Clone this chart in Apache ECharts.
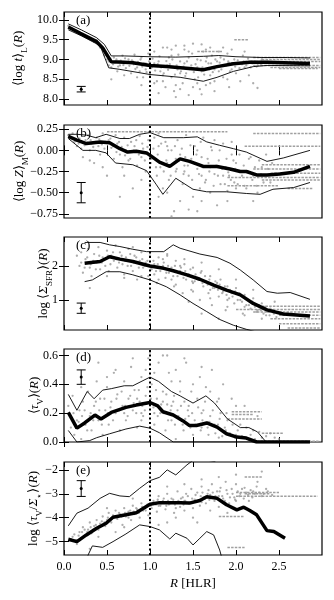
<!DOCTYPE html>
<html><head><meta charset="utf-8">
<script src="https://cdn.jsdelivr.net/npm/echarts@6/dist/echarts.min.js"></script>
<style>html,body{margin:0;padding:0;background:#fff}#c{width:334px;height:600px}</style>
</head><body><div id="c"></div>
<script>
// ---------- x axis ----------
const xTicks = [0, 0.5, 1, 1.5, 2, 2.5];
const xTickLabels = ['0.0', '0.5', '1.0', '1.5', '2.0', '2.5'];

// ---------- panel (a) <log t>_L ----------
const aTicks = [8, 8.5, 9, 9.5, 10];
const aTickLabels = ['8.0', '8.5', '9.0', '9.5', '10.0'];
const aMedian = [[0.05,9.82],[0.19,9.66],[0.38,9.45],[0.45,9.29],[0.55,8.94],[0.7,8.93],[0.8,8.92],[1.0,8.85],[1.19,8.82],[1.42,8.78],[1.62,8.74],[1.78,8.82],[1.97,8.89],[2.16,8.93],[2.36,8.93],[2.55,8.92],[2.86,8.9]];
const aUpper = [[0.05,9.9],[0.2,9.75],[0.38,9.55],[0.47,9.38],[0.55,9.09],[0.7,9.09],[1.0,9.07],[1.3,9.06],[1.62,9.08],[1.8,9.1],[2.0,9.07],[2.3,9.05],[2.6,9.05],[2.86,9.04]];
const aLower = [[0.05,9.75],[0.2,9.6],[0.42,9.35],[0.52,8.79],[0.65,8.75],[1.0,8.62],[1.35,8.55],[1.62,8.45],[1.78,8.55],[1.97,8.7],[2.2,8.82],[2.36,8.85],[2.86,8.84]];
const aScatter = [[0.05,9.85],[0.08,9.78],[0.12,9.74],[0.15,9.72],[0.18,9.65],[0.22,9.62],[0.25,9.58],[0.28,9.55],[0.32,9.5],[0.35,9.45],[0.38,9.48],[0.4,9.4],[0.42,9.3],[0.45,9.25],[0.47,9.1],[0.5,9.0],[0.52,8.85],[0.55,8.8],[0.58,9.05],[0.6,8.95],[0.62,8.7],[0.65,8.85],[0.68,9.1],[0.7,8.9],[0.72,8.78],[0.75,9.0],[0.78,8.65],[0.8,8.95],[0.82,9.12],[0.85,8.8],[0.88,8.7],[0.9,9.05],[0.92,8.55],[0.95,8.9],[0.98,9.15],[1.0,8.6],[1.02,8.8],[1.05,9.2],[1.08,8.45],[1.1,8.95],[1.12,8.7],[1.15,9.3],[1.18,8.3],[1.2,8.85],[1.22,9.05],[1.25,8.55],[1.28,8.2],[1.3,9.35],[1.32,8.75],[1.35,8.95],[1.38,8.4],[1.4,9.25],[1.42,8.65],[1.45,8.1],[1.48,8.85],[1.5,9.4],[1.52,8.5],[1.55,9.0],[1.58,8.25],[1.6,8.7],[1.62,9.2],[1.65,8.35],[1.68,8.9],[1.7,8.6],[1.72,9.1],[1.75,8.45],[1.78,8.95],[1.8,8.7],[1.82,9.05],[1.85,8.55],[1.88,8.85],[1.9,9.15],[1.92,8.3],[1.95,8.75],[1.98,9.0],[2.0,8.65],[2.05,8.9],[2.08,9.1],[2.1,8.8],[2.15,8.6],[2.18,8.95],[2.2,8.4],[2.25,8.85],[2.3,9.0],[1.1,8.15],[1.3,8.05],[1.6,8.12],[0.55,8.5],[0.9,8.35],[1.7,9.3],[2.25,8.28],[1.95,9.25],[1.25,9.1],[1.4,8.9],[1.55,8.8],[1.15,8.6],[0.95,8.75],[1.75,8.75],[1.35,8.65],[1.45,9.05],[1.65,8.95],[1.05,8.9]];
const aScatter2 = [[0.52,8.95],[0.54,9.02],[0.57,8.88],[0.59,8.92],[0.61,9.0],[0.63,8.82],[0.66,8.97],[0.69,8.86],[0.71,9.03],[0.73,8.92],[0.76,8.84],[0.79,8.98],[0.81,8.88],[0.83,8.76],[0.86,8.94],[0.89,9.0],[0.91,8.82],[0.93,8.9],[0.96,8.68],[0.99,8.95],[1.01,8.78],[1.03,9.02],[1.06,8.72],[1.09,8.88],[1.11,9.08],[1.13,8.8],[1.16,8.65],[1.19,8.96],[1.21,8.74],[1.23,8.88],[1.26,9.0],[1.29,8.62],[1.31,8.85],[1.33,9.12],[1.36,8.7],[1.39,8.82],[1.41,8.58],[1.43,8.95],[1.46,8.76],[1.49,9.15],[1.51,8.68],[1.53,8.88],[1.56,8.55],[1.59,8.98],[1.61,8.8],[1.63,8.62],[1.66,9.05],[1.69,8.75],[1.71,8.9],[1.73,8.68],[1.76,9.0],[1.79,8.82],[1.81,8.92],[1.83,8.75],[1.86,9.0],[1.89,8.85],[1.91,8.95],[1.93,8.7],[1.96,8.9],[1.99,8.82],[2.02,8.98],[2.04,8.78],[2.07,8.88],[2.09,8.95],[2.12,8.85],[2.14,9.02],[2.17,8.8],[2.19,8.9],[2.22,8.95],[2.24,8.82],[2.27,8.92],[2.29,8.86],[1.0,9.25],[1.2,9.3],[1.4,9.35],[1.6,9.38],[1.8,9.2],[1.3,8.35],[1.5,8.3],[1.7,8.4],[0.7,8.6],[0.85,8.55],[1.05,8.4],[1.15,8.45],[1.35,8.25],[1.55,8.4],[1.75,8.2],[1.9,8.5],[2.05,8.45],[1.45,9.2],[1.65,9.25],[1.25,9.25],[1.85,9.3],[2.1,9.2]];
const aStreaks = [[9.05,2.2,2.98],[9.0,2.3,2.98],[8.95,2.1,2.98],[8.85,2.2,2.98],[8.8,2.4,2.98],[8.77,2.5,2.95],[9.5,1.98,2.15],[8.92,1.9,2.5],[9.2,1.55,1.85]];
const aErr = [[0.2, 8.25, 0.07]];

// ---------- panel (b) <log Z>_M ----------
const bTicks = [-0.75, -0.5, -0.25, 0, 0.25];
const bTickLabels = ['\u22120.75', '\u22120.50', '\u22120.25', '0.00', '0.25'];
const bMedian = [[0.05,0.166],[0.15,0.12],[0.26,0.08],[0.42,0.1],[0.53,0.09],[0.65,0.02],[0.74,-0.02],[0.84,-0.01],[0.96,-0.03],[1.03,-0.08],[1.11,-0.14],[1.23,-0.19],[1.35,-0.1],[1.46,-0.13],[1.62,-0.19],[1.78,-0.19],[1.93,-0.22],[2.05,-0.25],[2.12,-0.25],[2.24,-0.29],[2.36,-0.29],[2.51,-0.28],[2.67,-0.26],[2.86,-0.19]];
const bUpper = [[0.05,0.19],[0.15,0.19],[0.26,0.18],[0.37,0.15],[0.49,0.19],[0.65,0.14],[0.76,0.14],[0.88,0.19],[1.0,0.21],[1.16,0.15],[1.39,0.15],[1.55,0.16],[1.66,0.1],[1.81,0.06],[1.97,0.02],[2.12,-0.02],[2.36,-0.13],[2.55,-0.09],[2.86,0.0]];
const bLower = [[0.05,0.14],[0.22,0.0],[0.37,0.0],[0.49,-0.03],[0.6,-0.15],[0.8,-0.17],[0.96,-0.24],[1.07,-0.4],[1.15,-0.52],[1.3,-0.33],[1.5,-0.46],[1.66,-0.49],[1.89,-0.49],[2.12,-0.51],[2.28,-0.52],[2.43,-0.46],[2.67,-0.44],[2.86,-0.38]];
const bScatter = [[0.05,0.18],[0.08,0.15],[0.1,0.2],[0.12,0.1],[0.15,0.05],[0.18,0.14],[0.2,0.02],[0.22,-0.08],[0.25,0.12],[0.28,0.18],[0.3,0.0],[0.32,0.08],[0.35,-0.15],[0.38,0.15],[0.4,0.05],[0.42,-0.05],[0.45,0.2],[0.48,0.1],[0.5,-0.3],[0.52,0.12],[0.55,0.03],[0.58,-0.1],[0.6,0.18],[0.62,0.08],[0.65,-0.05],[0.68,-0.2],[0.7,0.15],[0.72,0.0],[0.75,-0.12],[0.78,0.1],[0.8,-0.45],[0.82,0.05],[0.85,-0.18],[0.88,0.17],[0.9,-0.08],[0.92,0.02],[0.95,-0.25],[0.98,0.12],[1.0,-0.6],[1.02,-0.1],[1.05,0.15],[1.08,-0.3],[1.1,0.05],[1.12,-0.2],[1.15,-0.45],[1.18,0.1],[1.2,-0.15],[1.22,-0.35],[1.25,0.0],[1.28,-0.72],[1.3,-0.25],[1.32,0.12],[1.35,-0.05],[1.38,-0.4],[1.4,-0.18],[1.42,0.18],[1.45,-0.3],[1.48,-0.1],[1.5,-0.55],[1.52,0.05],[1.55,-0.22],[1.58,-0.45],[1.6,-0.08],[1.62,0.15],[1.65,-0.35],[1.68,-0.15],[1.7,-0.5],[1.72,0.0],[1.75,-0.28],[1.78,-0.65],[1.8,-0.12],[1.82,-0.4],[1.85,0.08],[1.88,-0.2],[1.9,-0.48],[1.92,-0.3],[1.95,-0.05],[1.98,-0.38],[2.0,-0.15],[2.05,-0.25],[2.1,-0.42],[2.15,-0.1],[2.2,-0.3],[2.25,-0.5],[2.3,-0.2],[2.35,-0.05],[2.4,-0.38],[1.25,-0.78],[0.65,-0.55],[1.45,-0.7],[1.1,0.2],[1.3,-0.1],[1.55,0.0],[1.7,-0.2],[1.85,-0.3],[1.2,0.05],[1.4,-0.25],[2.0,-0.45],[1.6,-0.3]];
const bScatter2 = [[0.06,0.17],[0.1,0.14],[0.14,0.11],[0.17,0.08],[0.21,0.1],[0.24,0.06],[0.27,0.09],[0.31,0.12],[0.34,0.04],[0.37,0.1],[0.41,0.13],[0.44,0.07],[0.47,0.02],[0.51,0.09],[0.54,0.14],[0.57,0.05],[0.61,-0.02],[0.64,0.1],[0.67,0.04],[0.71,-0.06],[0.74,0.06],[0.77,-0.1],[0.81,0.0],[0.84,0.12],[0.87,-0.05],[0.91,0.08],[0.94,-0.12],[0.97,0.04],[1.01,-0.15],[1.04,0.02],[1.07,-0.2],[1.09,-0.05],[1.13,0.08],[1.16,-0.25],[1.19,-0.12],[1.21,0.0],[1.24,-0.3],[1.27,-0.16],[1.29,0.05],[1.31,-0.22],[1.34,-0.12],[1.37,0.02],[1.39,-0.28],[1.41,-0.08],[1.44,-0.18],[1.47,0.06],[1.49,-0.35],[1.51,-0.15],[1.54,-0.05],[1.57,-0.28],[1.59,0.1],[1.61,-0.2],[1.64,-0.38],[1.67,-0.1],[1.69,-0.25],[1.71,0.04],[1.74,-0.42],[1.77,-0.18],[1.79,-0.3],[1.81,0.0],[1.84,-0.22],[1.87,-0.4],[1.89,-0.1],[1.91,-0.26],[1.94,-0.35],[1.97,-0.12],[1.99,-0.22],[2.02,-0.4],[2.04,-0.05],[2.07,-0.3],[2.09,-0.18],[2.12,-0.45],[2.14,-0.25],[2.17,-0.08],[2.19,-0.35],[2.22,-0.2],[2.24,-0.42],[2.27,-0.12],[2.29,-0.28],[2.32,-0.38],[2.37,-0.22],[2.42,-0.15],[1.0,-0.4],[1.2,-0.5],[1.35,-0.6],[1.6,-0.6],[1.9,-0.6],[2.2,-0.6],[0.9,-0.35],[1.55,-0.72],[0.45,-0.2],[0.3,-0.12],[0.7,-0.3],[1.1,-0.55],[1.75,0.12],[1.95,0.1]];
const bStreaks = [[0.22,0.5,1.9],[0.2,2.2,2.98],[0.05,2.1,2.98],[-0.17,2.3,2.98],[-0.22,2.2,2.98],[-0.27,2.4,2.98],[-0.32,1.9,2.98],[-0.35,2.3,2.98],[-0.42,1.9,2.5],[-0.45,2.6,2.9]];
const bErr = [[0.2, -0.5, 0.12]];

// ---------- panel (c) log <Sigma_SFR> ----------
const cTicks = [1, 2];
const cTickLabels = ['1', '2'];
const cMedian = [[0.24,2.08],[0.42,2.13],[0.53,2.27],[0.65,2.2],[0.8,2.13],[1.0,2.0],[1.16,1.93],[1.27,1.86],[1.43,1.74],[1.58,1.61],[1.74,1.44],[1.89,1.29],[2.05,1.15],[2.2,0.9],[2.36,0.71],[2.55,0.59],[2.86,0.53]];
const cUpper = [[0.24,2.69],[0.42,2.69],[0.53,2.62],[0.65,2.57],[0.8,2.49],[0.96,2.42],[1.16,2.42],[1.27,2.62],[1.35,2.52],[1.58,2.35],[1.78,2.25],[1.93,2.08],[2.05,1.88],[2.2,1.59],[2.36,1.25],[2.48,1.2],[2.63,1.22],[2.86,1.02]];
const cLower = [[0.24,1.54],[0.33,1.59],[0.49,1.83],[0.65,1.83],[0.8,1.74],[1.0,1.59],[1.19,1.39],[1.35,1.15],[1.5,0.9],[1.66,0.66],[1.81,0.43],[1.97,0.26],[2.12,0.14],[2.3,0.02]];
const cScatter = [[0.15,2.3],[0.18,2.0],[0.2,2.4],[0.22,1.8],[0.25,2.2],[0.28,2.5],[0.3,1.95],[0.32,1.7],[0.35,2.35],[0.38,2.1],[0.4,2.55],[0.42,1.9],[0.45,2.25],[0.48,2.0],[0.5,2.45],[0.52,1.85],[0.55,2.3],[0.58,2.15],[0.6,2.6],[0.62,1.95],[0.65,2.4],[0.68,2.05],[0.7,1.75],[0.72,2.25],[0.75,2.5],[0.78,2.0],[0.8,1.85],[0.82,2.3],[0.85,1.6],[0.88,2.15],[0.9,2.4],[0.92,1.95],[0.95,2.1],[0.98,1.7],[1.0,2.3],[1.02,1.9],[1.05,2.05],[1.08,1.5],[1.1,2.25],[1.12,1.85],[1.15,2.0],[1.18,1.65],[1.2,2.35],[1.22,1.8],[1.25,1.95],[1.28,1.4],[1.3,2.15],[1.32,1.7],[1.35,1.85],[1.38,1.2],[1.4,2.05],[1.42,1.6],[1.45,1.75],[1.48,1.3],[1.5,1.95],[1.52,1.55],[1.55,1.65],[1.58,1.0],[1.6,1.85],[1.62,1.4],[1.65,1.55],[1.68,1.2],[1.7,1.7],[1.72,0.85],[1.75,1.35],[1.78,1.5],[1.8,1.1],[1.82,1.6],[1.85,1.25],[1.88,0.7],[1.9,1.4],[1.92,1.05],[1.95,1.2],[1.98,0.9],[2.0,1.35],[2.05,1.0],[2.08,0.6],[2.1,1.15],[2.15,0.85],[2.2,1.05],[2.25,0.7],[2.3,0.9],[2.35,0.55],[2.4,0.75],[2.45,0.95],[0.3,1.35],[1.6,0.6],[1.8,0.45],[1.45,0.95],[1.05,1.75],[1.25,1.6],[1.5,1.5],[1.7,1.3],[1.9,1.0],[2.1,0.8],[0.9,2.05],[1.15,2.2],[1.35,2.0]];
const cScatter2 = [[0.2,2.1],[0.24,1.95],[0.27,2.25],[0.31,2.05],[0.34,2.15],[0.37,1.9],[0.41,2.3],[0.44,2.1],[0.47,2.2],[0.51,2.3],[0.54,2.05],[0.57,2.4],[0.61,2.2],[0.64,2.1],[0.67,2.3],[0.71,2.15],[0.74,2.0],[0.77,2.35],[0.81,2.1],[0.84,2.25],[0.87,1.95],[0.91,2.2],[0.94,2.0],[0.97,2.15],[1.01,1.95],[1.04,2.15],[1.07,1.85],[1.09,2.05],[1.13,1.95],[1.16,2.1],[1.19,1.8],[1.21,2.0],[1.24,1.9],[1.27,1.7],[1.29,2.0],[1.33,1.8],[1.36,1.95],[1.39,1.65],[1.41,1.85],[1.44,1.7],[1.47,1.9],[1.49,1.55],[1.53,1.75],[1.56,1.6],[1.59,1.8],[1.61,1.5],[1.64,1.7],[1.67,1.45],[1.69,1.6],[1.73,1.35],[1.76,1.55],[1.79,1.3],[1.81,1.45],[1.84,1.2],[1.87,1.4],[1.89,1.15],[1.93,1.3],[1.96,1.1],[1.99,1.25],[2.02,1.0],[2.04,1.2],[2.07,0.95],[2.09,1.1],[2.12,0.85],[2.14,1.0],[2.17,0.75],[2.19,0.95],[2.22,0.8],[2.24,0.65],[2.27,0.85],[2.29,0.7],[2.32,0.6],[2.34,0.8],[2.37,0.65],[2.39,0.55],[2.42,0.7],[2.44,0.6],[2.47,0.5],[1.1,1.6],[1.3,1.45],[1.5,1.25],[1.7,1.05],[1.9,0.8],[2.1,0.55],[2.3,0.45],[0.8,2.55],[1.0,2.4],[1.2,2.3],[1.4,2.2],[1.6,2.1],[1.8,1.9],[2.0,1.6],[2.2,1.3],[0.5,1.7],[0.7,1.65],[0.9,1.7]];
const cStreaks = [[0.82,2.3,2.98],[0.72,2.0,2.98],[0.65,2.2,2.98],[0.55,2.5,2.98],[0.45,2.4,2.98],[0.3,2.5,2.98],[0.18,2.6,2.98]];
const cErr = [[0.2, 0.76, 0.15]];

// ---------- panel (d) <tau_V> ----------
const dTicks = [0, 0.2, 0.4, 0.6];
const dTickLabels = ['0.0', '0.2', '0.4', '0.6'];
const dMedian = [[0.05,0.205],[0.15,0.096],[0.24,0.132],[0.36,0.187],[0.43,0.16],[0.55,0.205],[0.72,0.24],[0.84,0.256],[1.0,0.274],[1.09,0.25],[1.15,0.21],[1.27,0.187],[1.38,0.148],[1.46,0.114],[1.54,0.114],[1.66,0.132],[1.78,0.103],[1.89,0.057],[2.01,0.034],[2.12,0.027],[2.24,0.0],[2.86,0.0]];
const dUpper = [[0.05,0.33],[0.15,0.22],[0.27,0.35],[0.35,0.3],[0.45,0.36],[0.55,0.37],[0.7,0.39],[0.8,0.39],[1.0,0.45],[1.1,0.42],[1.25,0.35],[1.35,0.32],[1.5,0.27],[1.65,0.32],[1.75,0.27],[1.9,0.16],[2.05,0.1],[2.15,0.1],[2.25,0.07],[2.35,0.0],[2.86,0.0]];
const dLower = [[0.05,0.08],[0.15,0.0],[0.3,0.01],[0.38,0.03],[0.53,0.057],[0.72,0.09],[0.88,0.11],[1.0,0.096],[1.11,0.064],[1.27,0.0],[2.86,0.0]];
const dScatter = [[0.05,0.25],[0.08,0.1],[0.1,0.32],[0.12,0.05],[0.15,0.15],[0.18,0.22],[0.2,0.02],[0.22,0.28],[0.25,0.12],[0.28,0.35],[0.3,0.18],[0.32,0.08],[0.35,0.25],[0.38,0.42],[0.4,0.15],[0.42,0.3],[0.45,0.05],[0.48,0.22],[0.5,0.38],[0.52,0.12],[0.55,0.28],[0.58,0.48],[0.6,0.2],[0.62,0.33],[0.65,0.08],[0.68,0.25],[0.7,0.42],[0.72,0.15],[0.75,0.3],[0.78,0.52],[0.8,0.22],[0.82,0.36],[0.85,0.1],[0.88,0.28],[0.9,0.45],[0.92,0.18],[0.95,0.32],[0.98,0.58],[1.0,0.25],[1.02,0.4],[1.05,0.12],[1.08,0.3],[1.1,0.55],[1.12,0.2],[1.15,0.35],[1.18,0.08],[1.2,0.26],[1.22,0.48],[1.25,0.15],[1.28,0.32],[1.3,0.02],[1.32,0.22],[1.35,0.42],[1.38,0.12],[1.4,0.28],[1.42,0.55],[1.45,0.18],[1.48,0.35],[1.5,0.05],[1.52,0.15],[1.55,0.3],[1.58,0.45],[1.6,0.1],[1.62,0.22],[1.65,0.38],[1.68,0.05],[1.7,0.18],[1.72,0.5],[1.75,0.12],[1.78,0.28],[1.8,0.03],[1.82,0.2],[1.85,0.4],[1.88,0.08],[1.9,0.15],[1.95,0.3],[2.0,0.05],[2.05,0.12],[2.1,0.25],[2.15,0.02],[2.2,0.08],[2.25,0.18],[2.3,0.03],[2.4,0.06],[2.5,0.02],[1.0,0.62],[1.2,0.6],[0.95,0.5],[1.4,0.58],[0.85,0.3],[1.05,0.2],[1.25,0.25],[1.45,0.25],[0.7,0.2],[1.6,0.2],[0.9,0.15],[1.15,0.28]];
const dScatter2 = [[0.07,0.18],[0.11,0.2],[0.14,0.1],[0.17,0.14],[0.21,0.18],[0.24,0.22],[0.27,0.08],[0.31,0.2],[0.34,0.15],[0.37,0.28],[0.41,0.22],[0.44,0.12],[0.47,0.3],[0.51,0.2],[0.54,0.24],[0.57,0.15],[0.61,0.3],[0.64,0.22],[0.67,0.35],[0.71,0.25],[0.74,0.18],[0.77,0.32],[0.81,0.27],[0.84,0.2],[0.87,0.36],[0.91,0.25],[0.94,0.22],[0.97,0.38],[1.01,0.3],[1.04,0.24],[1.07,0.36],[1.09,0.18],[1.13,0.26],[1.16,0.2],[1.19,0.33],[1.21,0.15],[1.24,0.22],[1.27,0.28],[1.29,0.12],[1.33,0.18],[1.36,0.25],[1.39,0.08],[1.41,0.16],[1.44,0.22],[1.47,0.1],[1.49,0.2],[1.53,0.12],[1.56,0.24],[1.59,0.08],[1.61,0.15],[1.64,0.28],[1.67,0.1],[1.69,0.14],[1.73,0.22],[1.76,0.06],[1.79,0.12],[1.81,0.16],[1.84,0.04],[1.87,0.1],[1.89,0.2],[1.93,0.06],[1.96,0.12],[1.99,0.03],[2.02,0.08],[2.07,0.04],[2.12,0.1],[2.17,0.05],[2.22,0.02],[2.27,0.07],[2.35,0.04],[2.45,0.03],[0.6,0.5],[0.8,0.58],[1.05,0.48],[1.3,0.5],[1.5,0.4],[1.6,0.52],[1.8,0.3],[0.5,0.45],[1.15,0.6],[1.25,0.42],[1.7,0.35],[2.0,0.25],[0.4,0.55],[0.2,0.38],[1.35,0.35],[0.9,0.2]];
const dStreaks = [[0.21,1.95,2.3],[0.19,1.95,2.2],[0.16,1.9,2.3],[0.06,2.3,2.55],[0.005,2.2,2.98]];
const dErr = [[0.2, 0.45, 0.05]];

// ---------- panel (e) log <tau_V / Sigma_*> ----------
const eTicks = [-5, -4, -3, -2];
const eTickLabels = ['\u22125', '\u22124', '\u22123', '\u22122'];
const eMedian = [[0.05,-4.9],[0.15,-5.0],[0.26,-4.72],[0.38,-4.44],[0.49,-4.23],[0.57,-3.98],[0.72,-3.88],[0.84,-3.79],[1.0,-3.44],[1.11,-3.37],[1.35,-3.37],[1.46,-3.39],[1.58,-3.28],[1.66,-3.12],[1.78,-3.19],[1.89,-3.46],[2.01,-3.67],[2.09,-3.56],[2.16,-3.7],[2.24,-3.88],[2.36,-4.54],[2.44,-4.58],[2.57,-4.86]];
const eUpper = [[0.05,-4.34],[0.15,-3.81],[0.28,-3.6],[0.42,-3.19],[0.53,-2.98],[0.65,-3.09],[0.76,-3.12],[0.88,-2.77],[1.0,-2.45],[1.11,-2.31],[1.2,-2.0],[1.3,-2.21],[1.43,-1.79],[1.5,-1.6],[1.6,-1.55],[1.75,-1.65],[1.85,-1.4],[1.95,-1.0],[2.5,-1.0]];
const eLower = [[0.25,-6.0],[0.28,-5.56],[0.33,-5.18],[0.45,-5.24],[0.57,-5.0],[0.72,-4.68],[0.88,-4.3],[1.0,-4.37],[1.11,-4.51],[1.23,-4.89],[1.3,-4.65],[1.43,-4.86],[1.5,-5.14],[1.58,-4.86],[1.66,-4.58],[1.74,-4.72],[1.81,-5.35],[1.86,-6.0]];
const eScatter = [[0.08,-4.9],[0.12,-4.7],[0.15,-5.1],[0.18,-4.6],[0.2,-4.85],[0.22,-4.4],[0.25,-4.75],[0.28,-4.5],[0.3,-4.2],[0.32,-4.65],[0.35,-4.35],[0.38,-4.1],[0.4,-4.5],[0.42,-4.25],[0.45,-3.95],[0.48,-4.35],[0.5,-4.1],[0.52,-3.8],[0.55,-4.2],[0.58,-3.95],[0.6,-3.7],[0.62,-4.05],[0.65,-3.85],[0.68,-4.3],[0.7,-3.6],[0.72,-3.95],[0.75,-3.75],[0.78,-4.1],[0.8,-3.5],[0.82,-3.85],[0.85,-3.65],[0.88,-4.0],[0.9,-3.4],[0.92,-3.7],[0.95,-3.55],[0.98,-3.9],[1.0,-3.25],[1.02,-3.6],[1.05,-3.4],[1.08,-3.75],[1.1,-3.1],[1.12,-3.5],[1.15,-3.3],[1.18,-3.65],[1.2,-3.0],[1.22,-3.45],[1.25,-3.2],[1.28,-3.8],[1.3,-3.35],[1.32,-2.9],[1.35,-3.55],[1.38,-3.15],[1.4,-3.7],[1.42,-3.0],[1.45,-3.4],[1.48,-2.8],[1.5,-3.6],[1.52,-3.25],[1.55,-2.95],[1.58,-3.5],[1.6,-2.7],[1.62,-3.15],[1.65,-3.4],[1.68,-2.85],[1.7,-3.05],[1.72,-2.6],[1.75,-3.3],[1.78,-2.9],[1.8,-3.55],[1.82,-2.75],[1.85,-3.2],[1.88,-2.5],[1.9,-3.0],[1.92,-3.4],[1.95,-2.8],[1.98,-3.15],[2.0,-2.6],[2.05,-3.0],[2.1,-2.75],[2.15,-3.3],[2.2,-2.9],[2.25,-2.5],[2.3,-3.1],[2.35,-2.8],[2.3,-2.07],[1.0,-4.1],[1.2,-4.2],[0.6,-4.6],[1.5,-4.0],[0.3,-5.3],[1.1,-3.5],[1.3,-3.6],[1.4,-3.3],[1.6,-3.35],[1.8,-3.1],[0.95,-3.7],[0.75,-4.0],[2.0,-3.3]];
const eScatter2 = [[0.1,-4.8],[0.14,-4.95],[0.17,-4.75],[0.21,-4.6],[0.24,-4.5],[0.27,-4.6],[0.31,-4.4],[0.34,-4.5],[0.37,-4.3],[0.41,-4.35],[0.44,-4.15],[0.47,-4.2],[0.51,-4.0],[0.54,-4.05],[0.57,-3.9],[0.61,-3.95],[0.64,-3.8],[0.67,-3.95],[0.71,-3.8],[0.74,-3.85],[0.77,-3.7],[0.81,-3.75],[0.84,-3.6],[0.87,-3.8],[0.91,-3.55],[0.94,-3.6],[0.97,-3.45],[1.01,-3.5],[1.04,-3.3],[1.07,-3.45],[1.09,-3.25],[1.13,-3.4],[1.16,-3.2],[1.19,-3.5],[1.21,-3.3],[1.24,-3.4],[1.27,-3.25],[1.29,-3.45],[1.33,-3.3],[1.36,-3.2],[1.39,-3.45],[1.41,-3.3],[1.44,-3.1],[1.47,-3.35],[1.49,-3.2],[1.53,-3.05],[1.56,-3.3],[1.59,-3.1],[1.61,-2.95],[1.64,-3.2],[1.67,-3.0],[1.69,-3.25],[1.73,-2.95],[1.76,-3.1],[1.79,-3.2],[1.81,-2.9],[1.84,-3.1],[1.87,-3.3],[1.89,-2.85],[1.93,-3.15],[1.96,-3.0],[1.99,-3.25],[2.02,-2.9],[2.04,-3.1],[2.07,-2.8],[2.09,-3.2],[2.12,-2.95],[2.14,-3.05],[2.17,-2.85],[2.19,-3.15],[2.22,-3.0],[2.24,-2.7],[2.27,-2.95],[2.32,-3.0],[2.37,-2.9],[2.42,-3.05],[1.0,-2.9],[1.2,-2.7],[1.4,-2.6],[1.6,-2.4],[1.8,-2.3],[2.0,-2.2],[0.8,-3.2],[0.5,-3.6],[1.3,-4.0],[1.7,-3.7],[1.9,-3.8],[2.1,-3.6],[0.4,-4.8],[0.7,-4.4],[1.1,-4.3],[1.55,-4.2]];
const eStreaks = [[-3.1,2.0,2.95],[-2.95,2.0,2.5],[-3.0,2.1,2.4],[-3.95,1.8,2.1],[-5.25,1.9,2.1],[-2.3,2.1,2.3]];
const eErr = [[0.2, -2.78, 0.33]];

// ---------- layout ----------
const panels = [
  {tag:'(a)', top:12, min:7.85, max:10.2, ticks:aTicks, labels:aTickLabels, med:aMedian, up:aUpper, lo:aLower, sc:aScatter.concat(aScatter2), st:aStreaks, err:aErr,
   name:'\u27E8log {i|t}\u27E9{s|L}({i|R})', gap:35},
  {tag:'(b)', top:125, min:-0.8, max:0.3, ticks:bTicks, labels:bTickLabels, med:bMedian, up:bUpper, lo:bLower, sc:bScatter.concat(bScatter2), st:bStreaks, err:bErr,
   name:'\u27E8log {i|Z}\u27E9{s|M}({i|R})', gap:34},
  {tag:'(c)', top:237, min:0.12, max:2.85, ticks:cTicks, labels:cTickLabels, med:cMedian, up:cUpper, lo:cLower, sc:cScatter.concat(cScatter2), st:cStreaks, err:cErr,
   name:'log \u27E8{i|\u03A3}{s|SFR}\u27E9({i|R})', gap:10},
  {tag:'(d)', top:349, min:0, max:0.645, ticks:dTicks, labels:dTickLabels, med:dMedian, up:dUpper, lo:dLower, sc:dScatter.concat(dScatter2), st:dStreaks, err:dErr,
   name:'\u27E8{i|\u03C4}{s|V}\u27E9({i|R})', gap:19},
  {tag:'(e)', top:462, min:-5.56, max:-1.67, ticks:eTicks, labels:eTickLabels, med:eMedian, up:eUpper, lo:eLower, sc:eScatter.concat(eScatter2), st:eStreaks, err:eErr,
   name:'log \u27E8{i|\u03C4}{s|V}/{i|\u03A3}{s|\u22C6}\u27E9({i|R})', gap:20}
];

const FONT = 'Liberation Serif';
const H = 93, LEFT = 64, RIGHT = 12;
const rich = {
  i: {fontStyle:'italic', fontFamily:FONT, fontSize:13, color:'#000'},
  s: {fontFamily:FONT, fontSize:9, color:'#000', verticalAlign:'bottom', lineHeight:20}
};

const grid = [], xAxis = [], yAxis = [], series = [], graphic = [];
function labelFor(ticks, labels){ return v => { for (let k=0;k<ticks.length;k++) if (Math.abs(ticks[k]-v)<1e-9) return labels[k]; return ''; }; }

panels.forEach((p, i) => {
  grid.push({left:LEFT, right:RIGHT, top:p.top, height:H, show:true, borderColor:'#000', borderWidth:1.2, backgroundColor:'transparent'});
  const last = i === panels.length - 1;
  xAxis.push({gridIndex:i, type:'value', min:0, max:3, position:'bottom',
    axisLine:{show:false}, splitLine:{show:false},
    axisTick:{show:true, inside:true, length:5, customValues:xTicks, lineStyle:{color:'#000', width:1}},
    axisLabel:{show:last, customValues:xTicks, formatter:labelFor(xTicks, xTickLabels), fontFamily:FONT, fontSize:12, color:'#000', margin:6},
    name: last ? '{i|R} [HLR]' : '', nameLocation:'middle', nameGap:22,
    nameTextStyle:{fontFamily:FONT, fontSize:13, color:'#000', rich:{i:{fontStyle:'italic', fontFamily:FONT, fontSize:13, color:'#000'}}}
  });
  xAxis.push({gridIndex:i, type:'value', min:0, max:3, position:'top',
    axisLine:{show:false}, splitLine:{show:false},
    axisTick:{show:true, inside:true, length:5, customValues:xTicks, lineStyle:{color:'#000', width:1}},
    axisLabel:{show:false}
  });
  yAxis.push({gridIndex:i, type:'value', min:p.min, max:p.max, position:'left',
    axisLine:{show:false}, splitLine:{show:false},
    axisTick:{show:true, inside:true, length:5, customValues:p.ticks, lineStyle:{color:'#000', width:1}},
    axisLabel:{show:true, customValues:p.ticks, formatter:labelFor(p.ticks, p.labels), fontFamily:FONT, fontSize:12, color:'#000', margin:6},
    name:p.name, nameLocation:'middle', nameRotate:90, nameGap:p.gap, nameMoveOverlap:false,
    nameTextStyle:{fontFamily:FONT, fontSize:13, color:'#000', rich:rich}
  });
  yAxis.push({gridIndex:i, type:'value', min:p.min, max:p.max, position:'right',
    axisLine:{show:false}, splitLine:{show:false},
    axisTick:{show:true, inside:true, length:5, customValues:p.ticks, lineStyle:{color:'#000', width:1}},
    axisLabel:{show:false}
  });
  const xi = 2*i, yi = 2*i;
  series.push({type:'scatter', xAxisIndex:xi, yAxisIndex:yi, data:p.sc, symbolSize:2.3, silent:true,
    itemStyle:{color:'#999'}, z:1});
  series.push({type:'custom', xAxisIndex:xi, yAxisIndex:yi, data:p.st, clip:true, silent:true, z:1,
    renderItem:(params, api) => {
      const a = api.coord([api.value(1), api.value(0)]);
      const b = api.coord([api.value(2), api.value(0)]);
      return {type:'line', shape:{x1:a[0], y1:a[1], x2:b[0], y2:b[1]},
        style:{stroke:'#a0a0a0', lineWidth:1.5, lineDash:[2.5,1.2]}};
    }});
  series.push({type:'line', xAxisIndex:xi, yAxisIndex:yi, data:p.up, symbol:'none', silent:true,
    lineStyle:{color:'#000', width:0.9}, z:3});
  series.push({type:'line', xAxisIndex:xi, yAxisIndex:yi, data:p.lo, symbol:'none', silent:true,
    lineStyle:{color:'#000', width:0.9}, z:3});
  series.push({type:'line', xAxisIndex:xi, yAxisIndex:yi, data:p.med, symbol:'none', silent:true,
    lineStyle:{color:'#000', width:3.5}, z:4,
    markLine:{silent:true, symbol:['none','none'], label:{show:false}, animation:false,
      lineStyle:{color:'#000', type:[2,2.5], width:2}, data:[{xAxis:1}]}});
  series.push({type:'custom', xAxisIndex:xi, yAxisIndex:yi, data:p.err, silent:true, z:5,
    renderItem:(params, api) => {
      const x = api.value(0), y = api.value(1), e = api.value(2);
      const c = api.coord([x, y]), t = api.coord([x, y+e]), b = api.coord([x, y-e]);
      const w = 4.5;
      return {type:'group', children:[
        {type:'line', shape:{x1:c[0], y1:t[1], x2:c[0], y2:b[1]}, style:{stroke:'#000', lineWidth:1}},
        {type:'line', shape:{x1:c[0]-w, y1:t[1], x2:c[0]+w, y2:t[1]}, style:{stroke:'#000', lineWidth:1}},
        {type:'line', shape:{x1:c[0]-w, y1:b[1], x2:c[0]+w, y2:b[1]}, style:{stroke:'#000', lineWidth:1}},
        {type:'circle', shape:{cx:c[0], cy:c[1], r:1.5}, style:{fill:'#000'}}
      ]};
    }});
  graphic.push({type:'text', left:76, top:p.top+2, style:{text:p.tag, font:'13px "Liberation Serif"', fill:'#000'}, z:10});
});

const chart = echarts.init(document.getElementById('c'), null, {renderer:'canvas'});
chart.setOption({animation:false, backgroundColor:'#fff', grid, xAxis, yAxis, series, graphic});
</script>
</body></html>
